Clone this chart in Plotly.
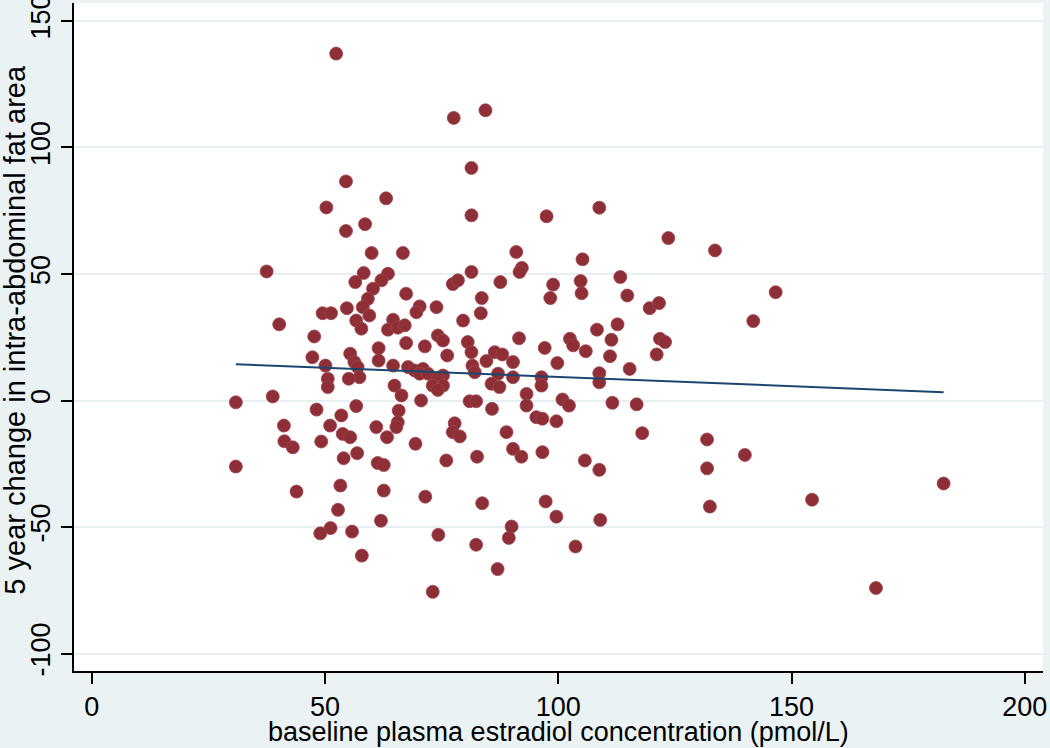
import plotly.graph_objects as go

# baseline plasma estradiol (pmol/L) and 5-year change in intra-abdominal fat area
estradiol = [
    52.4, 77.6, 84.4, 81.4, 54.5, 63.1, 50.3, 81.4, 58.6, 54.5,
    97.5, 108.8, 123.6, 133.6,
    60.0, 66.7, 91.0, 37.5, 92.2, 91.7, 58.3, 63.5, 62.1, 60.3, 59.2, 58.1, 59.5, 56.5,
    81.4, 77.4, 78.5, 87.6, 67.4, 83.6, 54.7, 49.5, 51.3, 70.3, 69.6, 73.9, 83.4, 40.2,
    56.7, 57.8, 64.6, 63.5, 65.6, 67.1, 79.6, 47.7, 67.4, 74.2, 75.3, 80.6, 81.4, 91.6,
    61.5, 71.4, 55.4, 56.3, 47.3, 61.5, 76.2, 84.6, 86.4, 88.0, 90.3, 50.1, 57.0, 57.4,
    55.1, 64.6, 67.8, 69.2, 71.0, 70.3, 72.1, 75.3, 74.2, 73.1, 75.3, 74.2, 81.6, 82.1,
    87.1, 90.3, 50.6, 50.6, 64.9, 85.7, 87.4, 66.4, 93.2, 30.9, 38.8, 70.6, 81.0, 82.4,
    93.2, 48.2, 56.7, 65.8, 85.8, 53.5, 65.6, 65.3, 41.2, 51.1, 61.0, 77.8, 77.4, 78.9,
    88.9, 53.8, 55.4, 63.3, 49.2, 41.3, 43.1, 69.4, 90.3, 92.1, 56.9, 82.6, 54.0, 76.0,
    61.3, 62.6, 30.9,
    43.9, 53.3, 62.6, 71.5, 83.7, 52.8, 62.0, 51.2, 49.0, 55.8, 90.0, 89.4, 74.3, 82.4,
    57.9, 87.0, 73.1,
    105.2, 98.9, 104.8, 105.0, 98.3, 113.3, 114.8, 146.6, 119.6, 121.6, 141.8, 108.3,
    112.7, 102.5, 103.2, 111.4, 121.8, 122.9, 97.1, 105.9, 111.1, 121.1, 99.8, 115.3,
    96.4, 96.4, 108.8, 108.8, 100.9, 102.3, 111.6, 116.8, 95.3, 96.6, 99.6, 118.0,
    131.9, 140.0, 96.6, 105.7, 131.9, 108.8,
    97.3, 99.6, 109.0, 103.7, 132.5, 154.4, 182.6, 168.1,
]
fat_change = [
    137.1, 111.7, 114.7, 91.9, 86.6, 79.9, 76.3, 73.2, 69.7, 67.0,
    72.8, 76.2, 64.2, 59.3,
    58.3, 58.3, 58.7, 51.0, 52.4, 50.8, 50.4, 50.1, 47.5, 44.2, 40.2, 36.9, 33.6, 46.8,
    50.8, 46.0, 47.5, 46.8, 42.2, 40.5, 36.5, 34.5, 34.5, 37.2, 34.9, 36.9, 34.5, 30.1,
    31.6, 28.4, 31.9, 28.0, 28.8, 29.7, 31.6, 25.3, 22.7, 25.7, 23.7, 23.1, 19.1, 24.6,
    20.7, 21.4, 18.5, 15.2, 17.1, 15.8, 17.8, 15.6, 19.1, 18.2, 15.2, 13.8, 13.2, 9.2,
    8.6, 13.8, 13.2, 11.9, 12.5, 10.6, 10.6, 9.9, 8.6, 5.9, 5.9, 4.2, 13.8, 11.2,
    10.6, 9.2, 8.6, 5.3, 5.9, 6.6, 5.3, 2.0, 2.6, -0.7, 1.6, 0.0, -0.3, -0.3,
    -2.0, -3.6, -2.2, -4.0, -3.3, -5.9, -8.6, -10.5, -9.9, -9.9, -10.5, -9.0, -12.5, -14.2,
    -12.5, -13.2, -14.5, -14.5, -16.2, -16.1, -18.5, -17.1, -19.1, -22.2, -20.8, -22.2, -22.8, -23.7,
    -24.7, -25.5, -26.1,
    -36.0, -33.6, -35.6, -38.0, -40.6, -43.2, -47.5, -50.4, -52.5, -51.8, -49.8, -54.3, -53.1, -57.0,
    -61.3, -66.6, -75.6,
    55.8, 45.8, 47.2, 42.4, 40.5, 48.8, 41.5, 42.8, 36.5, 38.5, 31.4, 28.0,
    30.1, 24.4, 21.8, 24.0, 24.4, 23.1, 20.8, 19.5, 17.5, 18.2, 14.8, 12.5,
    9.2, 5.9, 10.8, 7.2, 0.4, -2.0, -0.9, -1.5, -6.6, -7.2, -8.2, -12.9,
    -15.4, -21.5, -20.4, -23.7, -26.8, -27.4,
    -39.9, -45.9, -47.2, -57.7, -41.9, -39.2, -32.8, -74.1,
]

# fitted regression line end points
fit_x = [30.9, 182.6]
fit_y = [14.3, 3.3]

x_ticks = [0, 50, 100, 150, 200]
y_ticks = [-100, -50, 0, 50, 100, 150]

x_title = "baseline plasma estradiol concentration (pmol/L)"
y_title = "5 year change in intra-abdominal fat area"

FONT = "Liberation Sans, Arial, sans-serif"

fig = go.Figure()
fig.add_trace(go.Scatter(
    x=estradiol, y=fat_change, mode="markers",
    marker=dict(size=13, color="#8E2F37", line=dict(width=0.8, color="#A0454C")),
    showlegend=False, hoverinfo="x+y",
))
fig.add_trace(go.Scatter(
    x=fit_x, y=fit_y, mode="lines",
    line=dict(color="#1A476F", width=2),
    showlegend=False,
))

fig.update_layout(
    width=1050, height=748,
    margin=dict(l=74, r=7, t=3, b=77),
    paper_bgcolor="#EAF2F3",
    plot_bgcolor="#FFFFFF",
    font=dict(family=FONT, color="#000000"),
    xaxis=dict(
        range=[-3.79, 203.9], tickvals=x_ticks, ticktext=[str(v) for v in x_ticks],
        showgrid=False, zeroline=False, automargin=False,
        ticklabeloverflow="allow",
        showline=True, linecolor="#000000", linewidth=1.5,
        ticks="outside", ticklen=11, tickwidth=1.5, tickcolor="#000000",
        tickfont=dict(size=27, family=FONT),
    ),
    yaxis=dict(
        range=[-106.9, 157.1], tickvals=y_ticks, ticktext=[str(v) for v in y_ticks],
        showgrid=True, gridcolor="#E6EFF1", gridwidth=2,
        zeroline=False, automargin=False,
        ticklabeloverflow="allow",
        showline=True, linecolor="#000000", linewidth=1.5,
        ticks="outside", ticklen=11, tickwidth=1.5, tickcolor="#000000",
        tickangle=-90,
        tickfont=dict(size=27, family=FONT),
    ),
    annotations=[
        dict(text=x_title, xref="paper", yref="paper", x=0.5, y=-(732 - 671) / 668,
             xanchor="center", yanchor="middle", showarrow=False,
             font=dict(size=27, family=FONT, color="#000000")),
        dict(text=y_title, xref="paper", yref="paper", x=-(74 - 15) / 969, y=0.511,
             xanchor="center", yanchor="middle", showarrow=False, textangle=-90,
             font=dict(size=29, family=FONT, color="#000000")),
    ],
)

fig.write_html(
    "out.html",
    config={"displayModeBar": False},
    post_script="document.body.style.margin='0';document.body.style.padding='0';",
)
